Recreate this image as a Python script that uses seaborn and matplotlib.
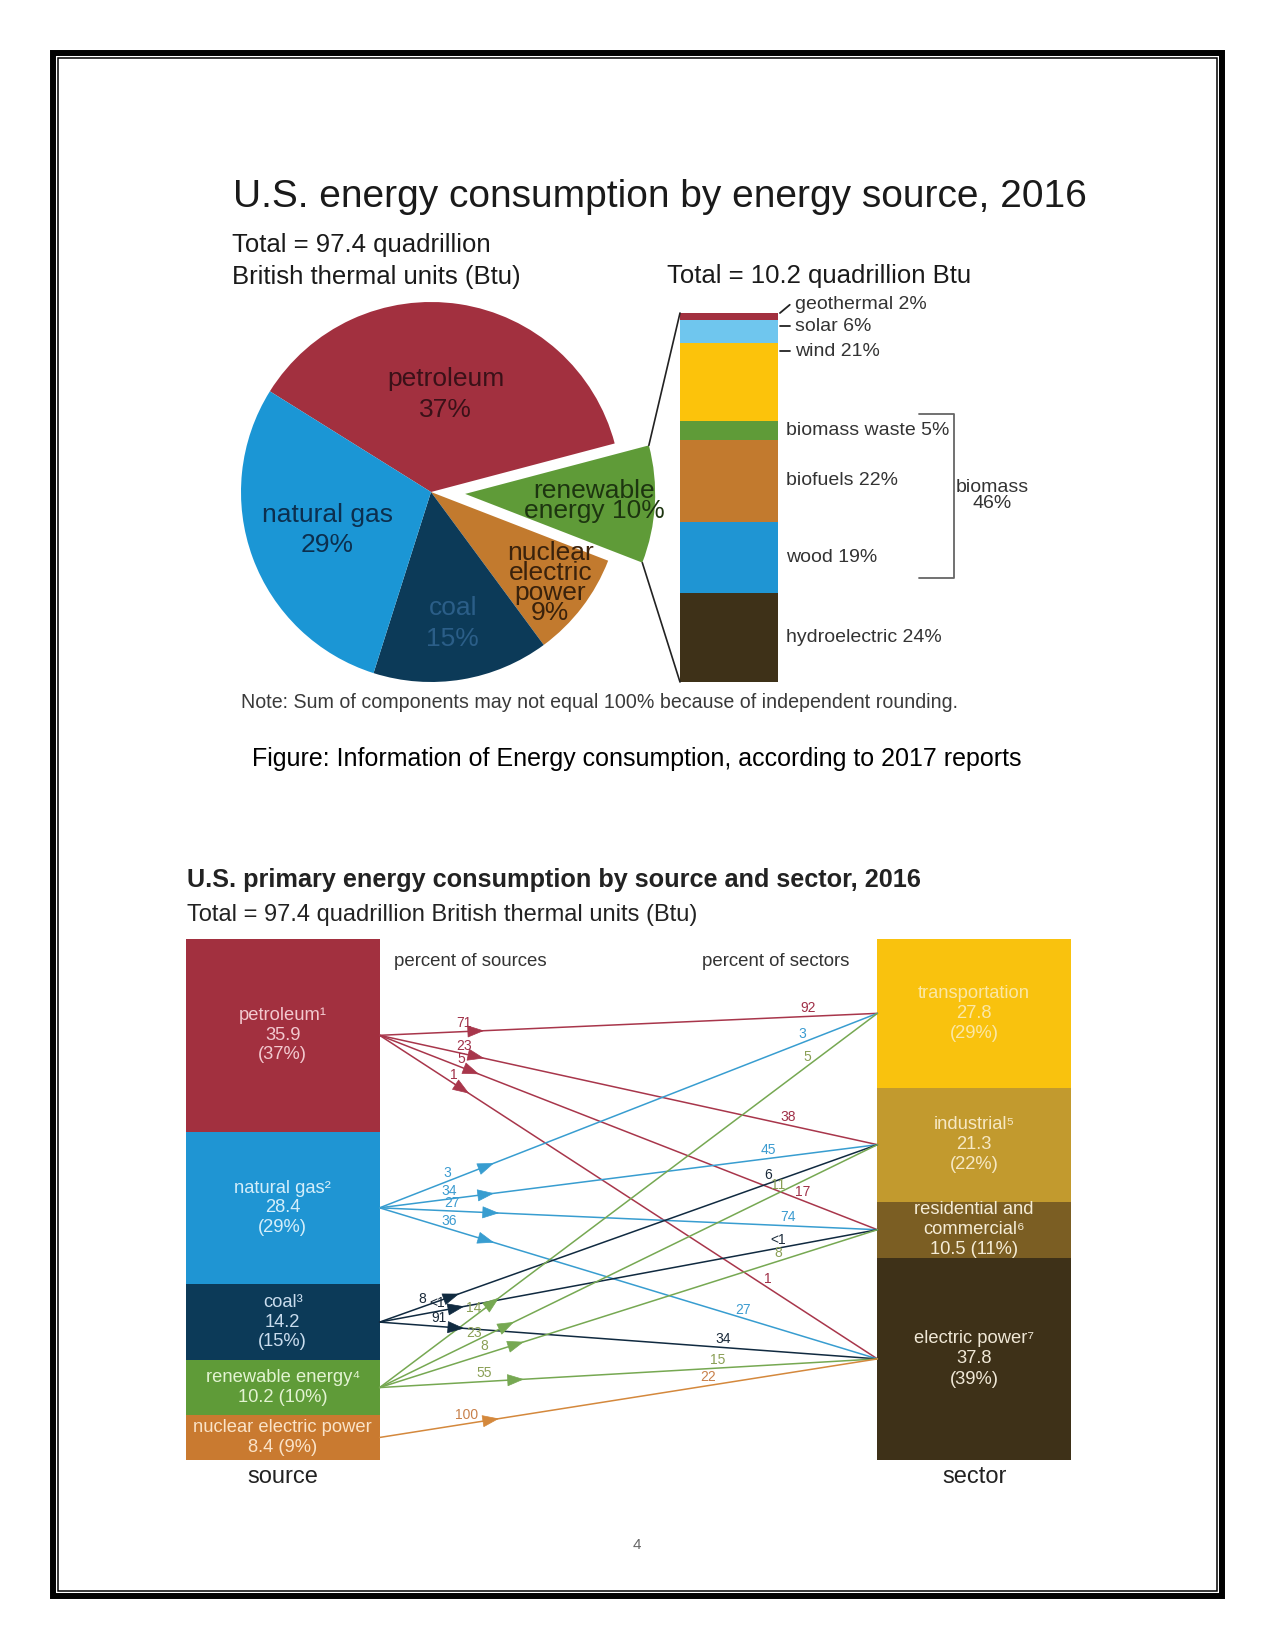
import numpy as np
import matplotlib
matplotlib.use("Agg")
import matplotlib.pyplot as plt
from matplotlib.patches import Rectangle, ConnectionPatch
import seaborn as sns

W, H = 1275, 1650  # page size in pixels

# ---- top chart: energy consumption by source, 2016 (percent of 97.4 quads)
pie_names = ["petroleum", "renewable\nenergy", "nuclear\nelectric\npower", "coal", "natural gas"]
pie_values = [37, 10, 9, 15, 29]
pie_colors = ["#a2303f", "#5f9b38", "#c27a2e", "#0c3a58", "#1b96d5"]
pie_text_colors = ["#3a1118", "#1d3510", "#3a220c", "#2b5e88", "#0c2f4e"]

# renewable breakdown, bottom to top (percent of 10.2 quads)
renew_names = ["hydroelectric", "wood", "biofuels", "biomass waste", "wind", "solar", "geothermal"]
renew_values = [24, 19, 22, 5, 21, 6, 2]
renew_colors = ["#3e3118", "#1f95d3", "#c27a2e", "#5f9b38", "#fcc30b", "#6fc6ee", "#a2303f"]
biomass_parts = ["wood", "biofuels", "biomass waste"]
biomass_total = 46

# ---- bottom chart: primary energy by source and sector
source_names = ["petroleum¹", "natural gas²", "coal³", "renewable energy⁴", "nuclear electric power"]
source_values = [35.9, 28.4, 14.2, 10.2, 8.4]
source_pct = [37, 29, 15, 10, 9]
source_colors = ["#a2303f", "#1f95d3", "#0c3a58", "#5f9b38", "#c97a30"]
source_text_colors = ["#f2c9cf", "#d4eefa", "#c9dced", "#e3f3d2", "#fae3c8"]

sector_names = ["transportation", "industrial⁵", "residential and\ncommercial⁶", "electric power⁷"]
sector_values = [27.8, 21.3, 10.5, 37.8]
sector_pct = [29, 22, 11, 39]
sector_colors = ["#f9c20e", "#c29a2e", "#7b5e23", "#3e3118"]
sector_text_colors = ["#fbe7a6", "#f6e8c4", "#f5ecd6", "#f0e8d6"]

# flows: source index -> sector index, percent of source, percent of sector
flow_src = [0, 0, 0, 0, 1, 1, 1, 1, 2, 2, 2, 3, 3, 3, 3, 4]
flow_dst = [0, 1, 2, 3, 0, 1, 2, 3, 1, 2, 3, 0, 1, 2, 3, 3]
flow_pct_src = ["71", "23", "5", "1", "3", "34", "27", "36", "8", "<1", "91", "14", "23", "8", "55", "100"]
flow_pct_dst = ["92", "38", "17", "1", "3", "45", "74", "27", "6", "<1", "34", "5", "11", "8", "15", "22"]
flow_colors = ["#a8364b", "#389dd0", "#102a40", "#76a852", "#d4883c"]
flow_label_colors = ["#a03048", "#3b9bd0", "#1a2a3a", "#8a9f55", "#c8804a"]

# where along each flow line the arrowhead and the two labels sit (fraction of length)
head_pos = [0.21, 0.21, 0.20, 0.18, 0.23, 0.23, 0.24, 0.23, 0.16, 0.17, 0.17,
            0.24, 0.27, 0.29, 0.29, 0.24]
src_label_pos = [0.17, 0.17, 0.165, 0.15, 0.135, 0.14, 0.145, 0.14, 0.085, 0.115, 0.12,
                 0.19, 0.19, 0.21, 0.21, 0.175]
dst_label_pos = [0.86, 0.82, 0.85, 0.78, 0.85, 0.78, 0.82, 0.73, 0.78, 0.80, 0.69,
                 0.86, 0.80, 0.80, 0.68, 0.66]


def px_axes(fig, left, top, width, height):
    return fig.add_axes([left / W, 1 - (top + height) / H, width / W, height / H])


def along(p0, p1, f):
    return (p0[0] + f * (p1[0] - p0[0]), p0[1] + f * (p1[1] - p0[1]))


def main():
    sns.set_theme(style="white")
    plt.rcParams["font.family"] = ["Liberation Sans", "DejaVu Sans"]

    fig = plt.figure(figsize=(W / 100, H / 100), dpi=100)

    # page with the double border
    page = fig.add_axes([0, 0, 1, 1])
    page.set_xlim(0, W)
    page.set_ylim(H, 0)
    page.axis("off")
    page.add_patch(Rectangle((53, 53), 1169, 1543, fill=False, lw=4.3, ec="black"))
    page.add_patch(Rectangle((58, 58), 1158.5, 1533, fill=False, lw=1.1, ec="black"))

    page.text(233, 207, "U.S. energy consumption by energy source, 2016", fontsize=28, color="#1a1a1a")
    page.text(232, 252, "Total = 97.4 quadrillion", fontsize=18.5, color="#1a1a1a")
    page.text(232, 284, "British thermal units (Btu)", fontsize=18.5, color="#1a1a1a")
    page.text(667, 283, "Total = 10.2 quadrillion Btu", fontsize=18.5, color="#1a1a1a")
    page.text(241, 708, "Note: Sum of components may not equal 100% because of independent rounding.",
              fontsize=14.1, color="#3a3a3a")
    page.text(637, 766, "Figure: Information of Energy consumption, according to 2017 reports",
              fontsize=18, color="black", ha="center")
    page.text(187, 887, "U.S. primary energy consumption by source and sector, 2016",
              fontsize=18.2, fontweight="bold", color="#222222")
    page.text(187, 921, "Total = 97.4 quadrillion British thermal units (Btu)", fontsize=17, color="#222222")
    page.text(394, 966, "percent of sources", fontsize=13.4, color="#333333")
    page.text(702, 966, "percent of sectors", fontsize=13.4, color="#333333")
    page.text(637, 1549, "4", fontsize=11, color="#666666", ha="center")

    # ---- pie with the exploded renewable slice
    R = 190
    ax_pie = px_axes(fig, 431 - 1.25 * R, 492 - 1.25 * R, 2.5 * R, 2.5 * R)
    ax_pie.set_facecolor("none")
    explode = [0.18 if n.startswith("renewable") else 0 for n in pie_names]
    wedges, _ = ax_pie.pie(pie_values, colors=pie_colors, startangle=148, counterclock=False,
                           explode=explode, wedgeprops=dict(linewidth=0))
    ax_pie.set_xlim(-1.25, 1.25)
    ax_pie.set_ylim(-1.25, 1.25)
    ax_pie.set_aspect("equal")
    label_dist = [0.52, 0.68, 0.79, 0.70, 0.58]
    label_spacing = [1.35, 0.8, 0.78, 1.35, 1.3]
    for i, wdg in enumerate(wedges):
        mid = np.deg2rad((wdg.theta1 + wdg.theta2) / 2)
        cx, cy = wdg.center
        sep = " " if "energy" in pie_names[i] else "\n"
        ax_pie.text(cx + label_dist[i] * np.cos(mid), cy + label_dist[i] * np.sin(mid),
                    f"{pie_names[i]}{sep}{pie_values[i]}%", ha="center", va="center",
                    fontsize=19, color=pie_text_colors[i], linespacing=label_spacing[i])

    # ---- renewable breakdown bar (seaborn cumulative bars, drawn top-down)
    ax_bar = px_axes(fig, 680, 313, 98, 369)
    ax_bar.set_facecolor("none")
    renew_end = np.cumsum(renew_values)
    for i in reversed(range(len(renew_names))):
        sns.barplot(x=["renewable"], y=[renew_end[i]], color=renew_colors[i], width=1,
                    saturation=1, linewidth=0, ax=ax_bar)
    total_renew = renew_end[-1]
    ax_bar.set_xlim(-0.5, 0.5)
    ax_bar.set_ylim(0, total_renew)
    ax_bar.axis("off")

    callout_y = {"wind": 88.8, "solar": 95.5, "geothermal": 101.2}
    for i, name in enumerate(renew_names):
        lo, hi = renew_end[i] - renew_values[i], renew_end[i]
        if name in callout_y:
            ly = callout_y[name]
            ax_bar.plot([0.52, 0.62], [min(max(ly, lo), hi), ly], color="#222222", lw=1.3, clip_on=False)
            ax_bar.text(0.67, ly, f"{name} {renew_values[i]}%", ha="left", va="center",
                        fontsize=14, color="#333333", clip_on=False)
        else:
            ax_bar.text(0.58, (lo + hi) / 2, f"{name} {renew_values[i]}%", ha="left", va="center",
                        fontsize=14, color="#333333", clip_on=False)

    idx = [renew_names.index(n) for n in biomass_parts]
    b_top = max(renew_end[j] for j in idx)
    b_bot = min(renew_end[j] - renew_values[j] for j in idx)
    ax_bar.plot([1.94, 2.30, 2.30, 1.94], [b_top + 2, b_top + 2, b_bot + 4, b_bot + 4],
                color="#666666", lw=1.3, clip_on=False)
    ax_bar.text(2.69, (b_top + b_bot) / 2 + 3, f"biomass\n{biomass_total}%", ha="center", va="center",
                fontsize=14, color="#333333", linespacing=0.9, clip_on=False)

    # lines from the exploded slice to the bar
    ren = wedges[[n.startswith("renewable") for n in pie_names].index(True)]
    cx, cy = ren.center
    for theta, yb in [(ren.theta2, total_renew), (ren.theta1, 0)]:
        t = np.deg2rad(theta)
        con = ConnectionPatch(xyA=(cx + ren.r * np.cos(t), cy + ren.r * np.sin(t)), coordsA=ax_pie.transData,
                              xyB=(-0.5, yb), coordsB=ax_bar.transData, color="#222222", lw=1.2)
        fig.add_artist(con)

    # ---- source / sector flow chart
    w = 0.28
    ax = px_axes(fig, 186, 939, 885, 521)
    ax.set_facecolor("none")
    src_share = np.array(source_values) / sum(source_values) * 100
    src_end = np.cumsum(src_share)
    src_mid = src_end - src_share / 2
    dst_share = np.array(sector_values) / sum(sector_values) * 100
    dst_end = np.cumsum(dst_share)
    dst_mid = dst_end - dst_share / 2

    order = ["source", "sector"]
    for i in reversed(range(len(source_names))):
        sns.barplot(x=["source"], y=[src_end[i]], order=order, color=source_colors[i], width=w,
                    saturation=1, linewidth=0, ax=ax)
    for i in reversed(range(len(sector_names))):
        sns.barplot(x=["sector"], y=[dst_end[i]], order=order, color=sector_colors[i], width=w,
                    saturation=1, linewidth=0, ax=ax)

    for i, name in enumerate(source_names):
        val = f"{source_values[i]}\n({source_pct[i]}%)" if source_values[i] > 12 else f"{source_values[i]} ({source_pct[i]}%)"
        ax.text(0, src_mid[i], f"{name}\n{val}", ha="center", va="center", fontsize=13.2,
                color=source_text_colors[i], linespacing=1.2)
    for i, name in enumerate(sector_names):
        val = f"{sector_values[i]}\n({sector_pct[i]}%)" if sector_values[i] > 12 else f"{sector_values[i]} ({sector_pct[i]}%)"
        ax.text(1, dst_mid[i], f"{name}\n{val}", ha="center", va="center", fontsize=13.2,
                color=sector_text_colors[i], linespacing=1.25)

    for k, (s, d) in enumerate(zip(flow_src, flow_dst)):
        p0 = (w / 2, src_mid[s])
        p1 = (1 - w / 2, dst_mid[d])
        c = flow_colors[s]
        ax.plot([p0[0], p1[0]], [p0[1], p1[1]], color=c, lw=1.1, zorder=3)
        fh = head_pos[k]
        ax.annotate("", xy=along(p0, p1, fh), xytext=along(p0, p1, fh - 0.03),
                    arrowprops=dict(arrowstyle="-|>,head_length=1.1,head_width=0.4", mutation_scale=10,
                                    color=c, lw=0.5, shrinkA=0, shrinkB=0), zorder=4)
        ax.annotate(flow_pct_src[k], xy=along(p0, p1, src_label_pos[k]), xytext=(0, 1),
                    textcoords="offset points", ha="center", va="bottom", fontsize=10,
                    color=flow_label_colors[s], zorder=6)
        ax.annotate(flow_pct_dst[k], xy=along(p0, p1, dst_label_pos[k]), xytext=(0, 1),
                    textcoords="offset points", ha="center", va="bottom", fontsize=10,
                    color=flow_label_colors[s], zorder=6)

    ax.set_xlim(-w / 2, 1 + w / 2)
    ax.set_ylim(100, 0)
    ax.set_xlabel("")
    ax.set_ylabel("")
    ax.set_yticks([])
    for sp in ax.spines.values():
        sp.set_visible(False)
    ax.tick_params(axis="x", length=0, labelsize=17, pad=4, labelcolor="#222222")

    fig.savefig("out.png", dpi=100)
    plt.close(fig)


if __name__ == "__main__":
    main()
